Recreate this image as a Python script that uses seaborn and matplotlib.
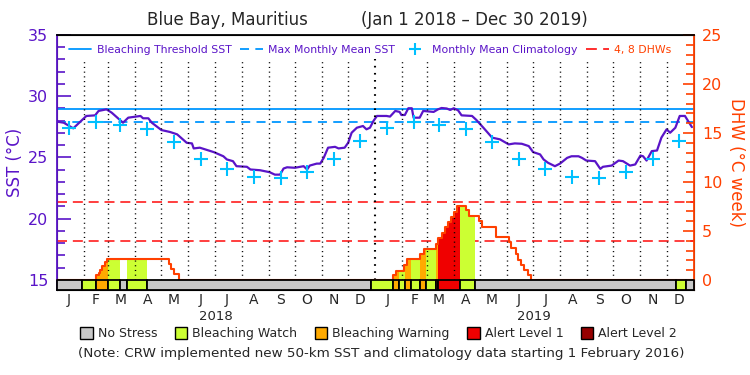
import numpy as np
import pandas as pd
import matplotlib
matplotlib.use("Agg")
import matplotlib.pyplot as plt
import matplotlib.dates as mdates
from matplotlib.lines import Line2D
from matplotlib.patches import Patch
from matplotlib.ticker import FixedLocator
import seaborn as sns

# --- data ---
start_day = "2018-01-01"
end_day = "2020-01-01"

# daily SST (days after 1 Jan 2018)
sst_day = [0, 8, 19, 34, 44, 48, 57, 63, 76, 82,
           96, 99, 105, 109, 120, 130, 138, 149, 155, 157,
           164, 180, 191, 195, 202, 206, 218, 222, 233, 244,
           250, 256, 260, 264, 273, 283, 287, 290, 298, 302,
           306, 311, 319, 323, 330, 334, 338, 344, 351, 355,
           359, 363, 367, 378, 382, 388, 393, 395, 399, 403,
           407, 409, 416, 420, 432, 437, 441, 447, 451, 455,
           460, 464, 476, 481, 489, 499, 508, 518, 525, 533,
           541, 546, 554, 558, 563, 571, 577, 585, 590, 598,
           602, 607, 617, 623, 626, 636, 644, 649, 657, 663,
           669, 672, 676, 682, 688, 693, 699, 703, 709, 714,
           720, 728]
sst_val = [27.93, 27.84, 27.38, 28.39, 28.44, 28.80, 28.93, 28.66, 27.84, 28.25,
           28.39, 28.2, 28.2, 27.84, 27.24, 27.08, 26.89, 26.2, 26.15, 25.74,
           25.8, 25.44, 25.1, 24.84, 24.7, 24.29, 24.24, 24.02, 23.96, 23.8,
           23.6, 23.6, 24.1, 24.2, 24.16, 24.29, 24.02, 24.34, 24.5, 24.5,
           24.97, 25.8, 25.87, 25.74, 25.8, 26.2, 27.02, 27.43, 27.57, 27.3,
           27.43, 27.98, 28.39, 28.39, 28.34, 28.8, 28.72, 28.47, 28.47, 29.02,
           29.02, 28.25, 28.25, 28.8, 28.72, 28.93, 29.04, 29.0, 28.88, 29.02,
           28.85, 28.44, 28.39, 28.06, 27.43, 26.62, 26.48, 26.07, 26.15, 26.12,
           25.93, 25.44, 25.25, 24.84, 24.57, 24.29, 24.51, 24.97, 25.1, 25.1,
           24.97, 24.75, 24.7, 24.07, 24.24, 24.34, 24.75, 24.7, 24.34, 24.43,
           25.16, 25.1, 24.75, 25.52, 25.57, 26.62, 27.3, 27.02, 27.43, 28.39,
           28.39, 27.48]

# monthly mean climatology, Jan..Dec
clim_val = [27.38, 27.93, 27.65, 27.3, 26.28, 24.9, 24.05, 23.39, 23.34, 23.8, 24.84, 26.36]
mmm = 27.93
threshold = 28.93

# degree heating weeks (step values from each date on)
dhw_date = ["2018-01-01", "2018-02-15", "2018-02-18", "2018-02-20", "2018-02-22", "2018-02-25",
            "2018-02-28", "2018-05-10", "2018-05-12", "2018-05-15", "2018-05-21",
            "2019-01-21", "2019-01-25", "2019-02-03", "2019-02-07", "2019-02-21", "2019-02-26",
            "2019-03-12", "2019-03-14", "2019-03-19", "2019-03-22", "2019-03-25", "2019-03-29",
            "2019-04-01", "2019-04-05", "2019-04-15", "2019-04-18", "2019-04-30", "2019-05-03",
            "2019-05-20", "2019-06-03", "2019-06-06", "2019-06-11", "2019-06-14", "2019-06-17",
            "2019-06-21", "2019-06-25", "2019-06-28", "2020-01-01"]
dhw_val = [0, 0.5, 0.75, 1.0, 1.46, 1.8,
           2.1, 1.6, 1.1, 0.58, 0,
           0.5, 0.95, 1.5, 2.1, 2.63, 3.18,
           3.66, 4.27, 4.75, 5.4, 5.9, 6.45,
           6.92, 7.5, 7.17, 6.5, 6.05, 5.4,
           4.37, 3.92, 3.24, 2.63, 2.05, 1.54,
           1.02, 0.51, 0, 0]

# bleaching alert strip: segment start dates and stress level
strip_start = ["2018-01-01", "2018-01-30", "2018-02-15", "2018-03-01", "2018-03-14", "2018-03-22",
               "2018-04-15", "2018-12-27", "2019-01-21", "2019-01-28", "2019-02-04", "2019-02-11",
               "2019-02-21", "2019-02-28", "2019-03-12", "2019-03-14", "2019-04-08", "2019-04-25",
               "2019-12-12", "2019-12-23"]
strip_level = [0, 1, 2, 1, 0, 1,
               0, 1, 2, 1, 2, 1,
               2, 1, 2, 3, 1, 0,
               1, 0]

level_names = ["No Stress", "Bleaching Watch", "Bleaching Warning", "Alert Level 1", "Alert Level 2"]
level_colors = ["#c8c8c8", "#ccff33", "#ffaa00", "#f00000", "#960000"]
month_letters = ["J", "F", "M", "A", "M", "J", "J", "A", "S", "O", "N", "D"]

purple = "#5a14c8"
orange = "#ff4000"
blue = "#0096ff"
cyan = "#00c0ff"
red = "#ff1e1e"

sns.set_style("white")
plt.rcParams['font.family'] = ['DejaVu Sans']

t0 = pd.Timestamp(start_day)
t1 = pd.Timestamp(end_day)
sst_dates = t0 + pd.to_timedelta(sst_day, unit="D")
months = pd.date_range(t0, periods=24, freq="MS")
clim_dates = months + pd.Timedelta(days=14)
dhw_dates = pd.to_datetime(dhw_date)
dhw_arr = np.array(dhw_val)
seg_start = pd.to_datetime(strip_start)
seg_end = list(seg_start[1:]) + [t1]

fig = plt.figure(figsize=(7.5, 3.75), dpi=100)
ax = fig.add_axes([0.0756, 0.2267, 0.8493, 0.68])
ax2 = ax.twinx()

# SST axis
ax.axhline(threshold, color=blue, lw=1.3, zorder=2)
ax.axhline(mmm, color=blue, lw=1.3, ls=(0, (5, 3.5)), zorder=2)
sns.lineplot(x=sst_dates, y=sst_val, ax=ax, color=purple, lw=1.6, zorder=3)
sns.scatterplot(x=clim_dates, y=clim_val * 2, ax=ax, marker="+", s=110, color=cyan,
                linewidth=1.5, zorder=4)

ax.set_xlim(t0, t1)
ax.set_ylim(14.184, 35)
ax.yaxis.set_major_locator(FixedLocator([15, 20, 25, 30, 35]))
ax.yaxis.set_minor_locator(FixedLocator(list(range(15, 36))))
ax.tick_params(axis="y", which="both", direction="in", colors=purple, labelsize=11.5, width=1.2)
ax.tick_params(axis="y", which="major", length=10, pad=6)
ax.tick_params(axis="y", which="minor", length=6)
ax.set_ylabel("SST (°C)", color=purple, fontsize=12, labelpad=3)
ax.set_xlabel("")

# DHW axis
ax2.axhline(4, color=red, lw=1.2, ls=(0, (6, 3.5)), zorder=1)
ax2.axhline(8, color=red, lw=1.2, ls=(0, (6, 3.5)), zorder=1)

for s, e, lev in zip(seg_start, seg_end, strip_level):
    if lev == 0:
        continue
    inside = [d for d in dhw_dates if s < d < e]
    xs = [s] + inside + [e]
    idx = np.searchsorted(dhw_dates, xs, side="right") - 1
    ys = dhw_arr[np.clip(idx, 0, len(dhw_arr) - 1)]
    ax2.fill_between(xs, 0, ys, step="post", color=level_colors[lev], lw=0, zorder=2)

sns.lineplot(x=dhw_dates, y=dhw_val, ax=ax2, color=orange, lw=1.5, drawstyle="steps-post", zorder=4)
ax2.set_xlabel("")

# month separators
for m in months[1:]:
    lw = 1.5 if m.month == 1 else 1.0
    ax2.vlines(m, 0, 22.5, colors="black", linestyles=(0, (0.8, 2.6)), lw=lw, zorder=3)

# alert strip
x0 = mdates.date2num(seg_start)
x1 = mdates.date2num(pd.DatetimeIndex(seg_end))
ax2.broken_barh(list(zip(x0, x1 - x0)), (-1.02, 1.02),
                facecolors=[level_colors[l] for l in strip_level],
                edgecolors="black", linewidth=1.3, zorder=6, clip_on=False)

ax2.set_ylim(-1.02, 25)
ax2.yaxis.set_major_locator(FixedLocator([0, 5, 10, 15, 20, 25]))
ax2.yaxis.set_minor_locator(FixedLocator(list(range(0, 26))))
ax2.tick_params(axis="y", which="both", direction="in", colors=orange, labelsize=11.5, width=1.2)
ax2.tick_params(axis="y", which="major", length=8, pad=6)
ax2.tick_params(axis="y", which="minor", length=6)
ax2.set_ylabel("DHW (°C week)", color=orange, fontsize=12, rotation=270, labelpad=16)

# x axis: month letters and years
ax.set_xticks(clim_dates)
ax.set_xticklabels(month_letters * 2, fontsize=10)
ax.tick_params(axis="x", length=0, pad=2)
for yr in [2018, 2019]:
    mid = pd.Timestamp(f"{yr}-07-02")
    ax.text(mid, -0.103, str(yr), transform=ax.get_xaxis_transform(),
            ha="center", va="center", fontsize=9.5)

for sp in ["top", "bottom"]:
    ax.spines[sp].set_color("black")
    ax2.spines[sp].set_color("black")
    ax2.spines[sp].set_linewidth(1.3)
ax2.spines["left"].set_color(purple)
ax2.spines["left"].set_linewidth(1.3)
ax2.spines["right"].set_color(orange)
ax2.spines["right"].set_linewidth(1.3)

# top legend
handles = [Line2D([], [], color=blue, lw=1.3),
           Line2D([], [], color=blue, lw=1.3, ls=(0, (5, 3.5))),
           Line2D([], [], color=cyan, marker="+", ls="none", markersize=9, mew=1.5),
           Line2D([], [], color=red, lw=1.3, ls=(0, (6, 3.5)))]
labels = ["Bleaching Threshold SST", "Max Monthly Mean SST", "Monthly Mean Climatology", "4, 8 DHWs"]
leg = ax2.legend(handles, labels, loc="center left", bbox_to_anchor=(0.012, 0.94), ncol=4,
                 frameon=False, fontsize=7.8, handlelength=2.1, handletextpad=0.5,
                 columnspacing=0.8, borderaxespad=0)
for txt, c in zip(leg.get_texts(), [purple, purple, purple, orange]):
    txt.set_color(c)

# bottom legend
patches = [Patch(facecolor=c, edgecolor="black", lw=1) for c in level_colors]
fig.legend(patches, level_names, loc="center", bbox_to_anchor=(0.505, 0.11), ncol=5,
           frameon=False, fontsize=9, handlelength=1.0, handleheight=1.0,
           handletextpad=0.4, columnspacing=1.4)

fig.text(0.303, 0.947, "Blue Bay, Mauritius", ha="center", va="center", fontsize=12)
fig.text(0.633, 0.947, "(Jan 1 2018 – Dec 30 2019)", ha="center", va="center", fontsize=12)
fig.text(0.509, 0.056,
         "(Note: CRW implemented new 50-km SST and climatology data starting 1 February 2016)",
         ha="center", va="center", fontsize=9.7)

fig.savefig("out.png", dpi=100)
